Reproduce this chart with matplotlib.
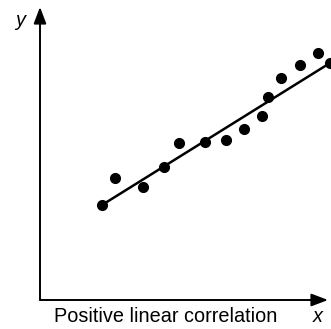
import numpy as np
import matplotlib.pyplot as plt

plt.rcParams['font.family'] = ['Liberation Sans', 'DejaVu Sans']

# scatter values, origin at the axes corner
xs = [62, 75, 103, 124, 139, 165, 186, 204, 222, 228, 241, 260, 278, 290]
ys = [95, 122, 113, 133, 157, 158, 160, 171, 184, 203, 222, 235, 247, 237]
trend_idx = [0, -1]  # trend line runs from first to last point

fig = plt.figure(figsize=(3.31, 3.29), dpi=100)
ax = fig.add_axes([0, 0, 1, 1])
ax.set_xlim(-40, 291)
ax.set_ylim(-29, 300)
ax.axis('off')

arrow = dict(arrowstyle='-|>,head_length=1.0,head_width=0.38', mutation_scale=10,
             lw=1.4, color='black', shrinkA=0, shrinkB=0)
ax.annotate('', xy=(0, 293), xytext=(0, 0), arrowprops=arrow)
ax.annotate('', xy=(288, 0), xytext=(0, 0), arrowprops=arrow)

tx = [xs[i] for i in trend_idx]
ty = [ys[i] for i in trend_idx]
ax.plot(tx, ty, color='black', lw=1.8, solid_capstyle='butt')
ax.plot(xs, ys, 'o', color='black', ms=7, clip_on=False)

ax.text(126, -17, 'Positive linear correlation', ha='center', va='center', fontsize=14.3)
ax.text(278, -17, 'x', ha='center', va='center', fontsize=14.3, style='italic')
ax.text(-20, 280, 'y', ha='center', va='center', fontsize=14.3, style='italic')

fig.savefig('out.png', dpi=100)
